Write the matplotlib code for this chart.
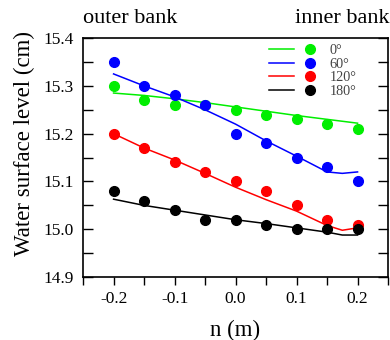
import matplotlib.pyplot as plt
from matplotlib.legend_handler import HandlerTuple
from matplotlib.ticker import MultipleLocator

plt.rcParams['font.family'] = ['Liberation Serif', 'DejaVu Serif']

# measured points (n in m, level in cm)
n_pts = [-0.2, -0.15, -0.1, -0.05, 0.0, 0.05, 0.1, 0.15, 0.2]
meas_0 = [15.30, 15.27, 15.26, 15.26, 15.25, 15.24, 15.23, 15.22, 15.21]
meas_60 = [15.35, 15.30, 15.28, 15.26, 15.20, 15.18, 15.15, 15.13, 15.10]
meas_120 = [15.20, 15.17, 15.14, 15.12, 15.10, 15.08, 15.05, 15.02, 15.01]
meas_180 = [15.08, 15.06, 15.04, 15.02, 15.02, 15.01, 15.00, 15.00, 15.00]

# simulated profiles
n_sim = [-0.2, -0.15, -0.1, -0.05, 0.0, 0.05, 0.1, 0.15, 0.175, 0.2]
sim_0 = [15.285, 15.280, 15.273, 15.265, 15.256, 15.247, 15.238, 15.230, 15.226, 15.222]
sim_60 = [15.325, 15.300, 15.277, 15.250, 15.220, 15.185, 15.153, 15.120, 15.117, 15.120]
sim_120 = [15.200, 15.170, 15.145, 15.117, 15.088, 15.062, 15.038, 15.008, 14.998, 15.003]
sim_180 = [15.063, 15.050, 15.040, 15.030, 15.020, 15.012, 15.003, 14.994, 14.988, 14.988]

labels = ['0°', '60°', '120°', '180°']
colors = ['#00ee00', '#0000ff', '#ff0000', '#000000']

fig = plt.figure(figsize=(3.9, 3.4), dpi=100)
ax = fig.add_axes([0.213, 0.185, 0.782, 0.703])

handles = []
for sim, meas, c in zip([sim_0, sim_60, sim_120, sim_180],
                        [meas_0, meas_60, meas_120, meas_180], colors):
    ln, = ax.plot(n_sim, sim, color=c, lw=1.1)
    mk, = ax.plot(n_pts, meas, 'o', color=c, ms=7, ls='none')
    handles.append((ln, mk))

ax.set_xlim(-0.25, 0.25)
ax.set_ylim(14.9, 15.4)
ax.xaxis.set_major_locator(MultipleLocator(0.1))
ax.xaxis.set_minor_locator(MultipleLocator(0.05))
ax.yaxis.set_major_locator(MultipleLocator(0.1))
ax.yaxis.set_minor_locator(MultipleLocator(0.05))
ax.xaxis.set_major_formatter(plt.FormatStrFormatter('%.1f'))
ax.yaxis.set_major_formatter(plt.FormatStrFormatter('%.1f'))

# y ticks inward on both sides, x ticks outward at the bottom only
ax.tick_params(axis='y', which='both', direction='in', right=True,
               length=7, width=1, labelsize=12.5, pad=7)
ax.tick_params(axis='x', which='both', direction='out', top=False,
               length=6, width=1, labelsize=12.5, pad=4)
for s in ax.spines.values():
    s.set_linewidth(1.2)

ax.set_xlabel('n (m)', fontsize=16.5, labelpad=9)
ax.set_ylabel('Water surface level (cm)', fontsize=16.5, labelpad=6)
ax.yaxis.label.set_y(0.56)

leg = ax.legend(handles, labels, loc='upper left', bbox_to_anchor=(0.59, 1.0),
                handler_map={tuple: HandlerTuple(ndivide=2, pad=0.2)},
                handlelength=3.8, handletextpad=0.45, labelspacing=0.05,
                fontsize=10.3, frameon=False, borderaxespad=0.0)
for t in leg.get_texts():
    t.set_color('#444444')

fig.text(0.213, 0.947, 'outer bank', fontsize=16, va='center', ha='left')
fig.text(0.998, 0.947, 'inner bank', fontsize=16, va='center', ha='right')

fig.savefig('out.png', dpi=100)
